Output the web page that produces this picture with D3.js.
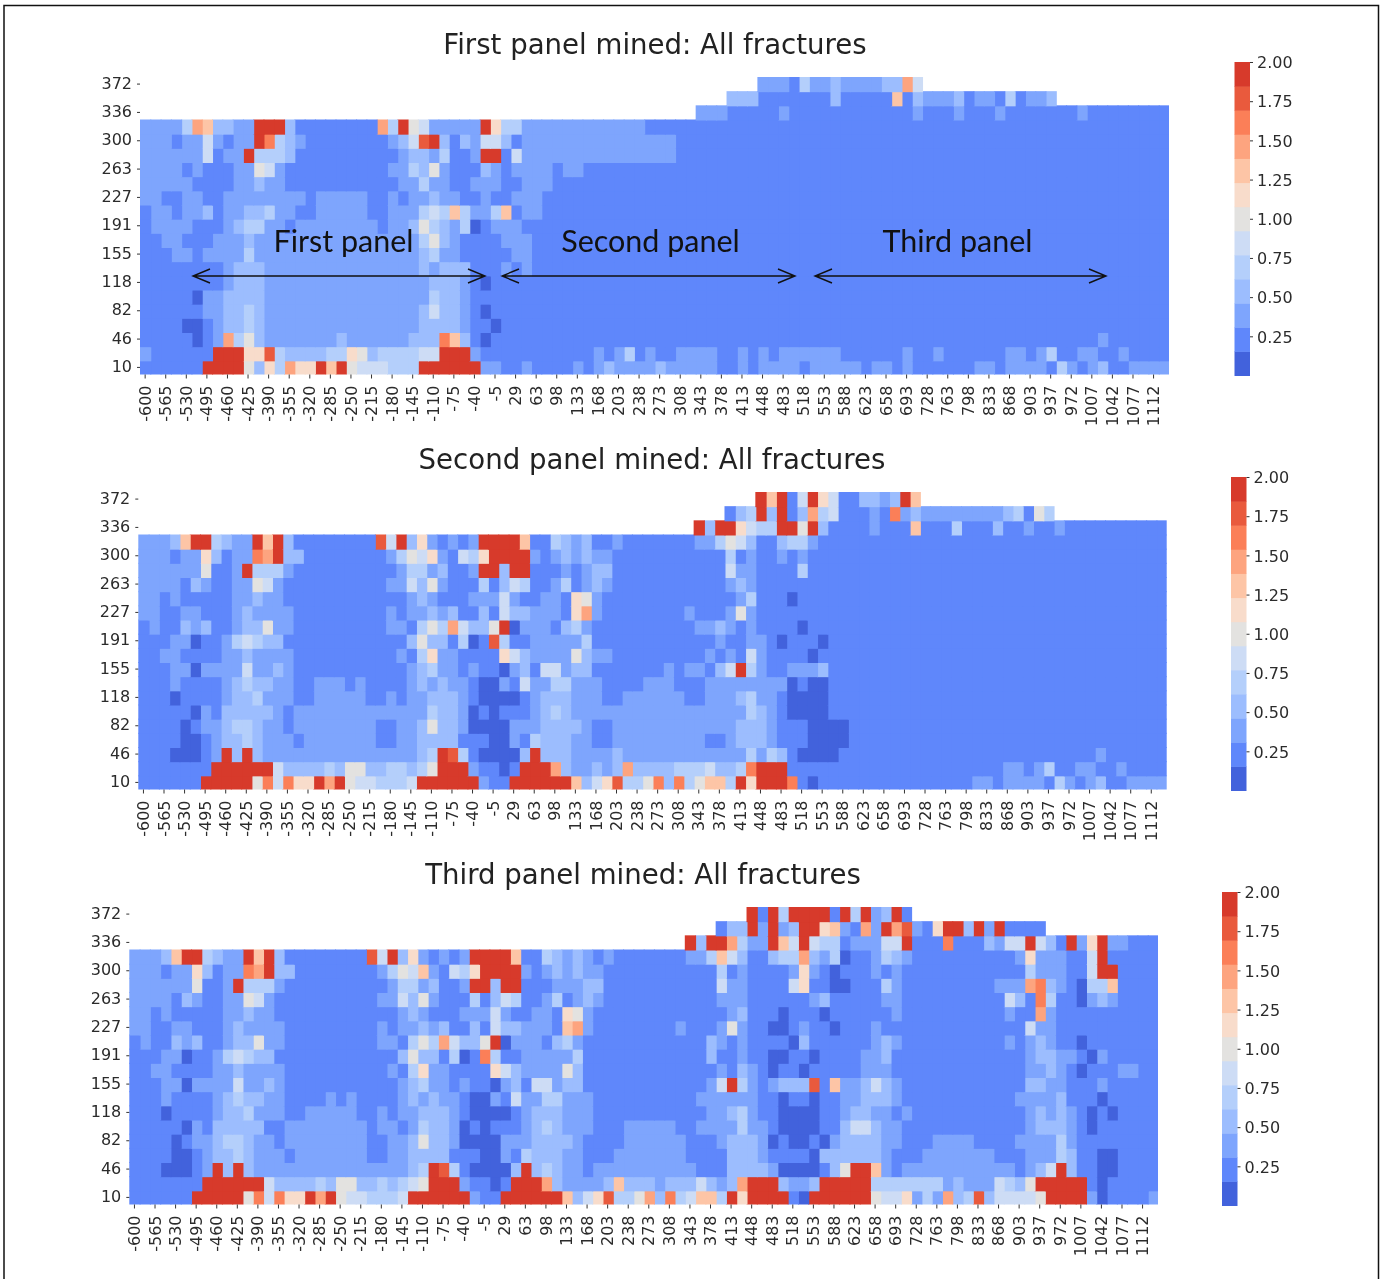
<!DOCTYPE html>
<html>
<head>
<meta charset="utf-8">
<script src="https://cdnjs.cloudflare.com/ajax/libs/d3/7.8.5/d3.min.js"></script>
<style>
  html, body { margin: 0; padding: 0; background: #fff; }
  svg { display: block; filter: blur(0.45px); }
  text { font-family: "DejaVu Sans", sans-serif; fill: #2b2b2b; }
  .note { font-family: "Lato", sans-serif; fill: #111; }
</style>
</head>
<body>
<div id="chart"></div>
<script>
const WIDTH = 1385, HEIGHT = 1279;

const xLabels = [-600,-565,-530,-495,-460,-425,-390,-355,-320,-285,-250,-215,-180,-145,-110,-75,-40,-5,29,63,98,133,168,203,238,273,308,343,378,413,448,483,518,553,588,623,658,693,728,763,798,833,868,903,937,972,1007,1042,1077,1112];
const yLabels = [372,336,300,263,227,191,155,118,82,46,10];
const legendTicks = [0.25,0.5,0.75,1,1.25,1.5,1.75,2];
const levelColors = ["#4262dc","#5f87fb","#7ea5fd","#9cbdfe","#b4cffb","#cddcf5","#e3e2e0","#f8dccb","#fdc5a6","#fda47f","#fb7f58","#e95a3d","#d73a2b"];

// one string per row, top row first. "col:level" = from this column on the
// colour band is `level` (0-12 on the colorbar), x = no data
const firstPanelRows = [
  "0:x 60:2 63:1 64:4 65:2 67:3 68:2 72:3 74:9 75:5 76:x",
  "0:x 57:3 60:1 67:3 68:1 73:8 74:1 75:3 76:2 79:3 80:1 81:2 83:1 84:4 85:1 86:2 88:3 89:x",
  "0:x 54:2 57:1 62:2 63:1 75:2 76:1 79:2 80:1 83:2 84:1 91:2 92:1",
  "0:2 4:4 5:9 6:8 7:3 9:2 11:12 14:3 15:1 23:9 24:4 25:12 26:6 27:5 28:2 33:12 34:7 35:4 37:2 49:1",
  "0:2 3:1 4:2 6:5 7:2 8:1 9:2 11:12 12:10 13:4 14:3 15:2 16:1 24:2 25:3 26:5 27:11 28:12 29:3 30:1 31:3 32:2 33:5 35:3 36:1 37:2 52:1",
  "0:2 6:5 7:1 8:2 10:12 11:4 14:3 15:1 25:2 26:3 28:2 29:4 30:1 32:2 33:12 35:1 36:5 37:2 52:1",
  "0:2 4:1 5:2 6:1 9:2 11:6 12:5 13:2 14:1 24:2 26:4 27:3 28:6 29:2 30:1 33:3 34:2 35:1 36:2 40:1 41:2 43:1",
  "0:2 5:1 9:2 11:3 12:2 14:1 25:2 27:4 28:2 30:1 32:2 35:1 37:2 40:1",
  "0:2 2:1 4:2 6:1 8:2 16:1 17:2 22:1 24:2 25:1 26:2 28:3 29:2 31:1 33:2 34:1 36:2 39:1",
  "0:1 1:2 3:1 4:2 6:3 7:1 8:2 10:3 12:4 13:2 15:1 17:2 22:1 24:2 27:4 28:5 29:4 30:8 31:4 32:2 34:4 35:8 36:1 37:2 39:1",
  "0:1 1:2 5:1 8:2 9:3 10:4 12:2 14:1 15:2 23:1 24:2 26:3 27:6 28:4 29:3 30:2 31:4 32:0 33:1 34:2 37:1",
  "0:1 2:2 4:1 7:2 10:3 11:2 27:4 28:6 29:3 30:2 31:1 35:2 38:1",
  "0:1 3:2 5:1 6:2 10:4 11:2 27:3 28:4 29:2 31:1 36:2 38:1",
  "0:1 8:2 9:3 12:2 27:3 28:2 29:3 32:1 35:2 36:1 37:2 38:1",
  "0:1 8:2 9:3 12:2 28:3 31:2 32:1 33:0 34:1",
  "0:1 5:0 6:2 8:3 12:2 28:4 29:3 31:2 32:1",
  "0:1 6:2 8:3 10:4 11:3 12:2 27:3 28:5 29:3 31:2 32:1 33:0 34:1",
  "0:1 4:0 6:1 7:2 8:3 10:4 11:3 12:2 27:3 31:2 32:1 34:0 35:1",
  "0:1 5:0 6:1 7:2 8:9 9:4 10:6 11:3 12:2 19:3 20:2 26:3 29:10 30:8 31:3 32:1 33:0 34:1 93:2 94:1",
  "0:2 1:1 7:12 10:7 12:11 13:4 14:3 18:4 20:7 21:6 22:3 23:4 27:5 29:12 32:2 33:1 44:2 45:1 46:2 47:4 48:1 49:2 50:1 52:2 56:1 58:2 59:1 60:2 61:1 62:2 68:1 74:2 75:1 77:2 78:1 84:2 86:1 87:2 88:4 89:1 91:2 93:1 95:2 96:1",
  "0:1 6:12 10:6 11:3 12:7 13:4 14:9 15:7 17:12 18:8 19:12 20:6 21:5 24:4 27:12 33:2 35:1 37:2 38:1 42:2 43:1 44:2 45:3 46:2 50:3 51:2 56:1 58:2 59:1 60:2 64:1 65:2 70:1 71:2 73:1 74:2 75:1 81:2 83:1 84:2 88:1 89:4 90:2 91:1 92:2 93:3 94:1 96:2"
];

const secondPanelRows = [
  "0:x 60:12 61:8 62:12 63:1 64:5 65:12 66:7 67:5 68:1 70:3 72:2 73:3 74:12 75:8 76:x",
  "0:x 57:1 58:3 59:4 60:12 61:3 62:12 63:1 64:3 65:9 66:4 67:5 68:1 71:2 72:1 73:10 74:2 75:3 76:2 84:3 85:4 86:1 87:6 88:4 89:x",
  "0:x 54:12 55:3 56:12 58:7 59:5 60:4 62:12 64:6 65:12 66:3 67:1 71:2 72:1 75:8 76:1 79:4 80:1 83:3 84:1 86:2 87:1 89:2 90:1",
  "0:2 3:3 4:8 5:12 7:4 8:3 9:2 11:12 12:8 13:12 14:3 15:1 23:11 24:5 25:12 26:3 27:7 28:2 29:1 30:2 31:1 32:2 33:12 37:8 38:1 40:4 41:3 42:2 43:3 44:1 46:2 47:1 54:2 56:4 57:6 58:5 59:3 60:1 62:3 63:4 65:2 66:1",
  "0:2 3:1 4:2 6:7 7:3 8:1 9:2 11:10 12:9 13:12 14:3 16:1 24:2 25:4 26:6 27:5 28:7 29:2 30:1 31:5 32:4 33:7 34:12 38:2 39:1 40:2 41:3 42:2 43:3 44:2 46:1 57:4 58:1 59:2 60:1 62:2 63:1 64:2 65:1",
  "0:2 6:6 7:1 9:2 10:12 11:4 14:2 15:1 25:2 26:4 28:2 29:3 30:1 32:2 33:12 35:3 36:12 38:1 41:2 42:1 43:2 44:3 46:1 57:5 58:2 60:1 64:4 65:1",
  "0:2 4:1 5:3 6:2 7:1 9:2 11:6 12:5 13:2 14:1 24:2 26:5 27:3 28:6 29:2 30:1 33:4 34:1 35:3 36:5 37:4 38:1 40:2 41:4 42:1 43:2 44:3 45:2 46:1 57:2 58:3 59:2 60:1",
  "0:2 2:1 3:2 4:1 9:2 11:3 12:2 14:1 26:2 27:3 28:2 29:1 32:2 35:5 36:2 37:1 39:2 41:1 42:7 43:6 44:2 45:1 58:2 59:4 60:1 63:0 64:1",
  "0:2 2:1 4:2 6:1 9:2 10:3 11:2 15:1 24:2 25:1 26:2 28:3 29:2 30:3 31:1 33:3 34:1 35:5 36:3 38:2 41:1 42:7 43:9 44:2 45:1 53:2 54:1 57:2 58:6 59:2 60:1",
  "0:1 1:2 2:1 4:3 5:2 6:3 7:1 9:2 10:3 12:6 13:2 15:1 24:2 26:1 27:4 28:6 29:4 30:9 31:5 32:3 34:6 35:12 36:0 37:2 40:1 41:3 42:4 43:2 44:1 54:2 56:3 57:2 58:1 59:2 60:1 64:0 65:1",
  "0:1 3:2 5:0 6:1 8:2 9:4 10:5 11:4 12:3 14:1 26:3 27:6 28:3 30:1 31:4 32:0 33:1 34:11 35:4 36:1 38:2 43:4 44:1 56:2 57:1 59:2 61:1 62:0 63:1 66:0 67:1",
  "0:1 2:2 4:1 8:2 10:3 11:2 15:1 25:2 26:1 27:4 28:7 29:2 31:1 35:7 36:5 37:3 38:2 42:6 43:3 44:2 46:1 55:2 56:1 57:2 58:1 59:5 60:2 61:1 65:0 66:1",
  "0:1 3:2 5:0 6:2 10:5 11:2 13:3 14:2 15:1 26:2 27:3 28:4 29:2 31:1 32:2 33:1 35:0 36:2 37:3 38:1 39:5 41:2 42:3 44:1 51:2 52:1 53:2 55:1 56:3 57:5 58:12 59:4 60:2 61:1 63:2 66:3 67:1",
  "0:1 3:2 4:1 8:2 9:3 10:4 11:3 13:2 15:1 17:2 20:1 21:2 22:1 26:2 27:3 28:2 29:3 30:2 32:1 33:0 35:2 36:1 37:5 38:2 40:4 42:2 45:1 49:2 52:1 55:2 63:0 64:1 65:0 67:1",
  "0:1 3:0 4:1 8:2 9:3 11:4 12:2 15:1 17:2 22:1 24:2 25:1 26:2 28:3 31:2 32:1 33:0 37:1 38:2 39:3 42:2 45:1 47:2 53:1 55:2 58:3 59:4 60:2 62:1 63:0 67:1",
  "0:1 5:0 6:2 7:1 8:3 13:2 14:1 15:2 28:4 29:3 31:2 32:0 33:1 34:0 35:1 38:2 39:3 40:4 41:3 42:2 59:4 60:3 61:2 62:1 63:0 67:1",
  "0:1 4:0 5:1 6:2 8:3 9:4 11:3 12:2 14:1 15:2 23:1 25:2 27:3 28:6 29:3 31:2 32:0 36:2 39:3 43:2 44:1 46:2 58:3 61:2 62:1 65:0 69:1",
  "0:1 4:0 6:1 7:2 8:3 10:4 11:3 12:2 15:1 16:2 23:1 25:2 27:3 31:1 34:0 36:2 37:1 38:4 39:3 42:2 44:1 46:2 55:1 57:2 58:3 61:2 62:1 65:0 69:1",
  "0:1 3:0 6:1 7:2 8:12 9:3 10:12 11:3 12:2 27:3 28:4 29:12 30:11 31:4 32:1 33:0 37:3 38:12 39:3 42:2 46:3 47:2 59:4 60:2 61:4 62:3 63:1 64:0 68:1 93:2 94:1",
  "0:1 7:12 13:5 14:3 18:4 19:3 20:6 22:3 24:4 26:3 27:4 28:6 29:12 32:2 33:1 35:0 36:1 37:12 40:9 41:3 42:2 44:3 45:2 46:3 47:9 48:3 52:4 55:5 56:3 58:4 59:10 60:12 63:1 84:2 86:1 87:2 88:4 89:1 91:2 93:1 95:2 96:1",
  "0:1 6:12 11:6 12:10 13:5 14:10 15:7 17:12 18:9 19:12 20:6 21:5 23:4 26:5 27:12 33:2 34:1 36:12 42:8 43:3 44:5 45:7 46:11 47:4 49:6 50:10 51:3 52:10 53:4 54:6 55:8 57:4 58:12 59:7 60:12 63:10 64:1 65:0 66:1 81:2 83:1 84:2 88:1 89:4 90:2 91:1 92:2 93:3 94:1 96:2"
];

const thirdPanelRows = [
  "0:x 60:12 61:1 62:12 63:4 64:12 68:1 69:12 70:4 71:12 72:2 73:3 74:12 75:1 76:x",
  "0:x 57:1 58:3 60:12 61:2 62:12 63:2 64:3 65:12 67:7 68:8 69:2 70:1 71:9 72:2 73:12 74:9 75:11 76:2 77:1 78:7 79:12 81:3 82:12 83:2 84:12 85:1 89:x",
  "0:x 54:12 55:3 56:12 58:9 59:4 60:2 62:12 63:8 64:5 65:12 66:5 67:4 69:1 70:2 73:5 75:12 76:1 79:10 80:1 83:3 84:2 85:5 87:12 88:5 89:3 90:1 91:12 92:2 93:7 94:12 95:2 97:1",
  "0:2 3:3 4:8 5:12 7:4 8:3 9:2 11:12 12:8 13:12 14:3 15:1 23:11 24:5 25:12 26:3 27:7 28:2 29:1 30:2 31:1 32:2 33:12 37:8 38:1 40:4 41:3 42:2 43:3 44:2 45:1 46:2 47:1 54:2 56:4 57:8 58:5 59:3 60:1 62:3 63:4 65:9 66:3 67:2 68:4 69:0 70:1 72:2 73:4 74:3 75:2 76:1 86:2 87:7 88:2 91:1 93:5 94:12 95:1",
  "0:2 3:1 4:2 6:7 7:3 8:1 9:2 11:10 12:9 13:12 14:3 16:1 24:2 25:4 26:6 27:5 28:8 29:2 30:1 31:5 32:4 33:7 34:12 38:2 39:1 40:2 41:3 42:2 43:3 44:2 46:1 57:4 58:1 59:2 60:1 64:2 65:7 66:2 67:1 68:0 69:1 72:2 73:1 74:2 75:1 87:4 88:2 91:1 93:5 94:12 96:1",
  "0:2 6:6 7:1 9:2 10:12 11:4 14:2 15:1 25:2 26:4 28:2 29:3 30:1 32:2 33:12 35:3 36:12 38:1 41:2 44:3 46:1 57:5 58:2 60:1 64:5 65:7 66:1 68:0 70:1 73:4 74:2 75:1 84:2 87:9 88:10 89:3 90:2 91:1 92:0 93:4 95:8 96:1",
  "0:2 4:1 5:3 6:2 7:1 9:2 11:6 12:5 13:2 14:1 24:2 26:5 27:3 28:6 29:2 30:1 33:4 34:1 35:3 36:5 37:4 38:1 40:2 41:4 42:1 43:2 44:3 45:2 46:1 57:2 60:1 66:2 67:3 68:1 73:2 75:1 85:5 86:3 87:1 88:10 89:4 90:1 92:0 93:2 94:3 95:2 96:1",
  "0:2 2:1 3:2 4:1 9:2 11:3 12:2 14:1 26:2 27:3 28:2 29:1 32:2 35:5 36:2 37:1 39:2 41:1 42:7 43:6 44:2 45:1 58:2 59:3 60:1 63:0 64:1 67:0 68:1 74:2 75:1 85:2 86:1 88:9 89:2 90:1",
  "0:2 2:1 4:2 6:1 9:2 10:3 11:2 15:1 24:2 25:1 26:2 28:3 29:2 30:3 31:1 33:3 34:1 35:5 36:3 38:2 41:1 42:8 43:9 44:2 45:1 53:2 54:1 57:2 58:6 59:2 60:1 62:0 64:1 65:2 66:1 68:0 69:1 72:2 73:1 87:5 88:2 90:1",
  "0:1 1:2 2:1 4:3 5:2 6:3 7:1 9:2 10:3 12:6 13:2 15:1 24:2 26:1 27:4 28:6 29:4 30:9 31:5 32:3 34:6 35:12 36:0 37:2 40:1 41:3 42:4 43:2 44:1 56:3 57:2 58:1 59:2 60:1 64:0 65:3 66:1 72:2 73:3 74:2 75:1 85:2 86:1 87:2 88:3 89:2 90:1 92:0 93:1",
  "0:1 3:2 5:0 6:1 8:2 9:4 10:5 11:4 12:3 14:1 26:3 27:6 28:3 30:1 31:4 32:0 33:1 34:10 35:4 36:1 38:2 43:4 44:1 56:3 57:1 59:2 60:1 62:0 64:1 66:0 67:1 71:2 73:3 74:1 87:2 88:3 90:2 92:1 93:0 94:2 95:1",
  "0:1 2:2 4:1 8:2 10:3 11:2 15:1 25:2 26:1 27:4 28:7 29:2 31:1 35:7 36:5 37:3 38:2 42:6 43:3 44:1 57:2 58:1 59:3 60:2 61:1 62:0 63:1 65:0 66:1 71:2 74:1 87:2 89:3 90:2 91:1 92:0 93:1 96:2 98:1",
  "0:1 3:2 5:0 6:2 10:5 11:2 13:3 14:2 15:1 26:2 27:3 28:4 29:2 31:1 32:2 33:1 35:0 36:2 37:3 38:1 39:5 41:2 42:3 44:1 56:2 57:5 58:12 59:4 60:2 61:1 62:2 63:3 66:11 67:1 68:8 69:2 71:3 72:5 73:3 74:2 75:1 87:3 89:2 91:1 94:2 95:1",
  "0:1 3:2 4:1 8:2 9:3 10:4 11:3 13:2 15:1 19:2 20:1 21:2 22:1 26:2 27:3 28:2 29:3 30:2 32:1 33:0 35:2 36:1 37:5 38:2 40:4 42:2 45:1 55:2 61:1 63:0 64:1 66:0 67:1 69:2 71:3 74:2 75:1 86:2 90:3 91:1 94:0 95:1",
  "0:1 3:0 4:1 8:2 9:3 11:4 12:2 15:1 17:2 22:1 24:2 25:1 26:2 28:3 31:2 32:1 33:0 37:1 38:2 39:3 42:2 45:1 56:2 58:3 59:4 60:2 61:1 63:0 67:1 69:2 70:3 72:2 74:1 75:2 76:1 87:2 88:3 89:2 90:3 91:2 92:1 93:0 94:1 95:0 96:1",
  "0:1 5:0 6:2 7:1 8:3 13:1 15:2 23:1 24:2 26:1 27:2 28:4 29:3 31:2 32:0 33:1 34:0 35:1 38:2 39:3 40:4 41:3 42:2 45:1 48:2 53:1 55:2 59:4 60:2 62:1 63:0 67:1 69:3 70:5 72:3 73:2 75:1 87:2 88:3 91:2 92:1 93:0 94:1",
  "0:1 4:0 5:1 6:2 8:3 9:4 11:3 12:2 14:1 15:2 23:1 25:2 27:3 28:6 29:3 31:2 32:0 36:2 39:3 43:2 44:1 48:2 54:1 57:2 58:3 61:2 62:0 63:1 64:0 66:1 67:0 68:2 69:3 73:2 75:1 78:2 82:1 86:2 90:4 91:2 92:1",
  "0:1 4:0 6:1 7:2 8:3 10:4 11:3 12:2 15:1 16:2 23:1 25:2 27:3 31:1 34:0 36:2 37:1 38:4 39:3 42:2 44:1 47:2 54:1 58:3 61:2 62:1 66:0 67:3 73:2 74:1 77:2 84:1 87:2 90:4 91:3 92:1 94:0 96:1",
  "0:1 3:0 6:1 7:2 8:12 9:3 10:12 11:3 12:2 27:3 28:4 29:12 30:11 31:4 32:1 33:0 37:3 38:12 39:3 40:4 41:3 42:2 44:1 45:2 55:1 58:3 62:2 63:0 67:1 68:3 69:6 70:12 72:8 73:2 74:1 75:2 86:1 87:2 88:3 89:5 90:12 91:3 92:1 94:0 96:1",
  "0:1 7:12 13:5 14:3 18:4 19:3 20:6 22:3 24:4 25:3 26:4 27:5 28:6 29:12 32:2 33:1 35:0 36:1 37:12 40:9 41:3 42:2 46:3 47:8 48:3 51:2 52:3 55:5 56:3 57:2 58:3 59:9 60:12 63:3 64:2 66:3 67:12 72:4 79:2 80:3 81:2 84:5 85:4 86:3 87:6 88:12 93:1 94:0 95:1",
  "0:1 6:12 11:6 12:10 13:5 14:10 15:7 17:12 18:9 19:12 20:6 21:5 23:4 26:5 27:12 33:2 34:1 36:12 42:8 43:3 44:5 45:7 46:11 47:4 49:6 50:9 51:3 52:10 53:4 54:5 55:8 57:4 58:12 59:7 60:12 64:1 65:0 66:12 72:6 73:5 75:7 76:2 77:4 78:2 79:9 80:3 81:4 82:11 83:3 84:5 88:6 89:12 93:2 94:0 95:1 99:2"
];

const panelTitles = ["First panel mined: All fractures", "Second panel mined: All fractures", "Third panel mined: All fractures"];
const panelNotes = ["First panel", "Second panel", "Third panel"];

const N_COLS = xLabels.length * 2, N_ROWS = yLabels.length * 2 - 1;

const color = d3.scaleQuantize().domain([0, 2]).range(levelColors);
const bandWidth = 2 / levelColors.length;

// expand "col:level" runs to one value per column
function decodeRow(str, row) {
  const runs = str.split(" ").map(s => s.split(":"));
  const cells = [];
  runs.forEach(([start, level], i) => {
    const end = i + 1 < runs.length ? +runs[i + 1][0] : N_COLS;
    if (level === "x") return;
    for (let col = +start; col < end; col++) {
      cells.push({ col, row, value: (+level + 0.5) * bandWidth });
    }
  });
  return cells;
}

const svg = d3.select("#chart").append("svg")
  .attr("width", WIDTH).attr("height", HEIGHT)
  .attr("viewBox", `0 0 ${WIDTH} ${HEIGHT}`);

// frame of the original figure
svg.append("path")
  .attr("d", `M4 ${HEIGHT} V5.5 H1378.5 V${HEIGHT}`)
  .attr("fill", "none").attr("stroke", "#111").attr("stroke-width", 1.5);

function drawPanel(rows, title, opts) {
  const g = svg.append("g");
  const x = d3.scaleBand().domain(d3.range(N_COLS)).range([opts.left, opts.right]);
  const y = d3.scaleBand().domain(d3.range(N_ROWS)).range([opts.top, opts.bottom]);

  g.append("text").attr("x", opts.titleX).attr("y", opts.top - 23)
    .attr("text-anchor", "middle").attr("font-size", 27.6).style("fill", "#222").text(title);

  // draw right-to-left / bottom-to-top so the 1px overlap closes the seams
  const cells = rows.flatMap(decodeRow).sort((a, b) => b.row - a.row || b.col - a.col);
  g.append("g").selectAll("rect")
    .data(cells)
    .join("rect")
    .attr("x", d => x(d.col))
    .attr("y", d => y(d.row))
    .attr("width", d => x.bandwidth() + (d.col < N_COLS - 1 ? 1 : 0))
    .attr("height", d => y.bandwidth() + (d.row < N_ROWS - 1 ? 1 : 0))
    .attr("fill", d => color(d.value));

  const xAxis = d3.axisBottom(x)
    .tickValues(d3.range(0, N_COLS, 2))
    .tickFormat(i => xLabels[i / 2])
    .tickSize(4).tickPadding(4);
  const xg = g.append("g").attr("transform", `translate(0,${opts.bottom})`).call(xAxis);
  xg.select(".domain").remove();
  xg.selectAll("text")
    .attr("transform", "rotate(-90)")
    .attr("x", -11).attr("y", 0).attr("dy", "0.35em")
    .attr("text-anchor", "end").attr("font-size", 16).attr("font-family", "DejaVu Sans");

  const yAxis = d3.axisLeft(y)
    .tickValues(d3.range(0, N_ROWS, 2))
    .tickFormat(i => yLabels[i / 2])
    .tickSize(3).tickPadding(5);
  const yg = g.append("g").attr("transform", `translate(${opts.left},0)`).call(yAxis);
  yg.select(".domain").remove();
  yg.selectAll("text").attr("font-size", 16).attr("font-family", "DejaVu Sans").attr("dy", "0.28em");

  // colorbar
  const cy = d3.scaleLinear().domain([0, 2]).range([opts.bottom + 1, opts.top - 15]);
  g.append("g").selectAll("rect")
    .data(levelColors)
    .join("rect")
    .attr("x", opts.barX)
    .attr("width", 15.5)
    .attr("y", (d, i) => cy((i + 1) * bandWidth))
    .attr("height", (d, i) => cy(i * bandWidth) - cy((i + 1) * bandWidth) + 0.5)
    .attr("fill", d => d);
  const cg = g.append("g").attr("transform", `translate(${opts.barX + 15.5},0)`)
    .call(d3.axisRight(cy).tickValues(legendTicks).tickFormat(d3.format(".2f")).tickSize(3).tickPadding(4));
  cg.select(".domain").remove();
  cg.selectAll("text").attr("font-size", 16).attr("font-family", "DejaVu Sans").attr("dy", "0.36em");
  [xg, yg, cg].forEach(a => a.selectAll("line").attr("stroke", "#333"));
}

drawPanel(firstPanelRows, panelTitles[0], { left: 140, right: 1169, top: 77, bottom: 374.5, titleX: 655, barX: 1234.5 });
drawPanel(secondPanelRows, panelTitles[1], { left: 138.3, right: 1166.7, top: 492, bottom: 789.5, titleX: 652, barX: 1231 });
drawPanel(thirdPanelRows, panelTitles[2], { left: 129.3, right: 1158, top: 907, bottom: 1204.5, titleX: 643, barX: 1222 });

// hand-drawn annotations on the first panel
const notes = svg.append("g");
const spans = [[193, 485], [502, 795], [815, 1106]];
const noteX = [343.5, 650.5, 957.5];
spans.forEach(([a, b], i) => {
  notes.append("text").attr("class", "note").attr("x", noteX[i]).attr("y", 252)
    .attr("text-anchor", "middle").attr("font-size", 30.5).text(panelNotes[i]);
  notes.append("path")
    .attr("d", `M${a} 276 H${b} M${a + 17} 269 L${a} 276 L${a + 17} 283 M${b - 17} 269 L${b} 276 L${b - 17} 283`)
    .attr("fill", "none").attr("stroke", "#111").attr("stroke-width", 1.4);
});
</script>
</body>
</html>
